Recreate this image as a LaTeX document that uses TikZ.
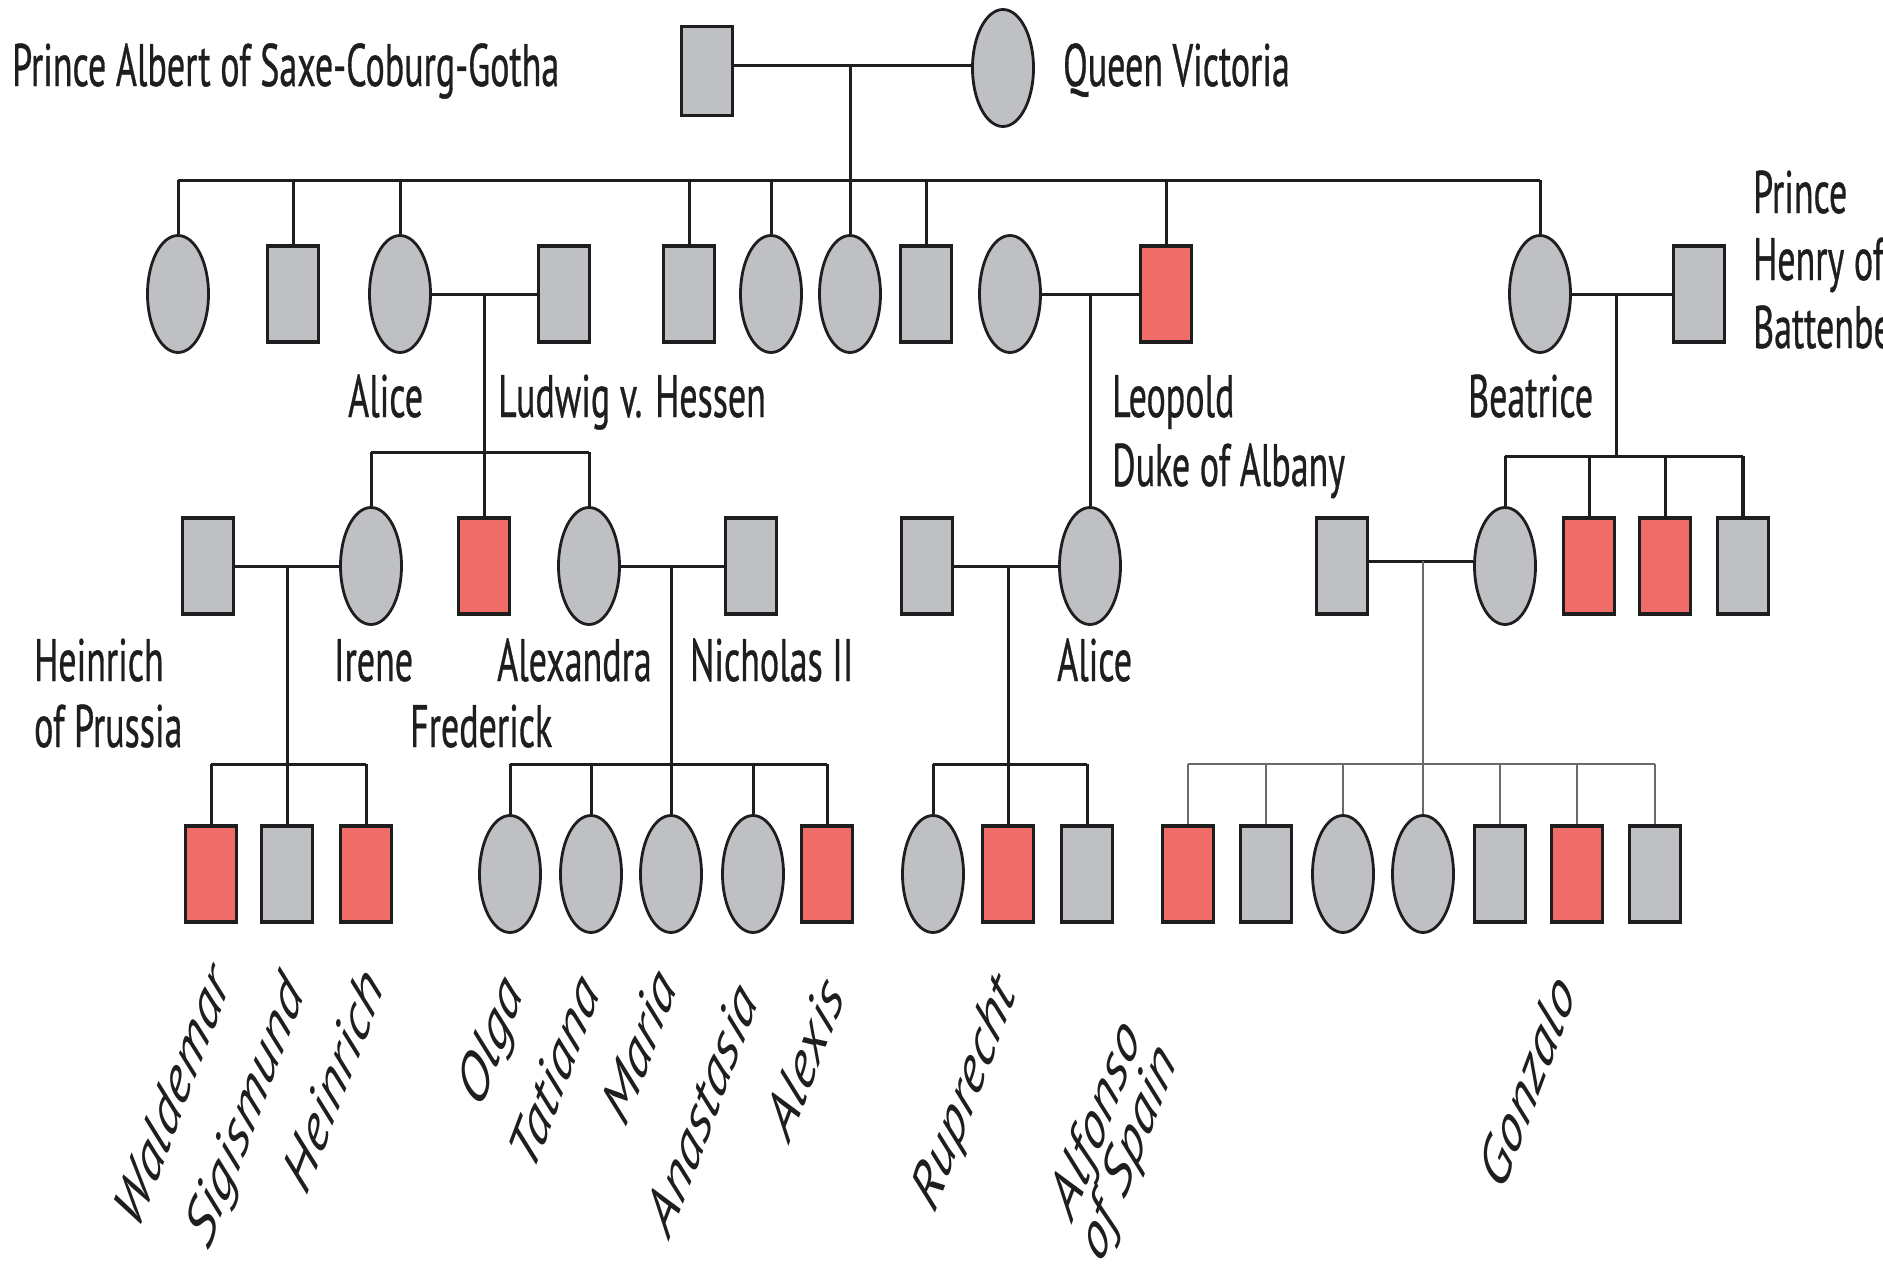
\documentclass[tikz,border=0pt]{standalone}
\usepackage{fontspec}
\setmainfont{PT Sans}[FakeBold=0.8]
\newfontfamily\slantnames{PT Sans Italic}
\usetikzlibrary{shapes.geometric}
\definecolor{persongrey}{HTML}{BFC0C4}
\definecolor{bleeder}{HTML}{F06C69}
\definecolor{inkgrey}{HTML}{1E1E1E}
\definecolor{softline}{HTML}{6A6A6A}
\tikzset{
  male/.style={rectangle, draw=inkgrey, line width=3.2pt, fill=persongrey,
    minimum width=51pt, minimum height=96pt, inner sep=0pt},
  female/.style={ellipse, draw=inkgrey, line width=2.8pt, fill=persongrey,
    minimum width=61pt, minimum height=117pt, inner sep=0pt},
  affected/.style={fill=bleeder},
  link/.style={line width=3pt, draw=inkgrey},
  glink/.style={line width=2.8pt, draw=softline},
  lab/.style={font=\fontsize{60}{66}\selectfont, text=inkgrey, inner sep=0pt,
    xscale=0.6, anchor=base west},
  rlab/.style={font=\fontsize{72}{78}\selectfont\slantnames, text=inkgrey, inner sep=0pt,
    xscale=0.6, rotate=58, anchor=north east},
}
\begin{document}
\begin{tikzpicture}[x=1pt, y=-1pt]
\useasboundingbox (0,0) rectangle (1883,1269);

% ---------- generation I ----------
\node[male, minimum height=89pt] (albert) at (707,71) {};
\node[female] (victoria) at (1003,68) {};

% ---------- generation II ----------
\def\gtwo{294}
\node[female] (vicky)    at (178,\gtwo) {};
\node[male]   (edward)   at (293,\gtwo) {};
\node[female] (alice)    at (400,\gtwo) {};
\node[male]   (ludwig)   at (564,\gtwo) {};
\node[male]   (alfred)   at (689,\gtwo) {};
\node[female] (helena)   at (771,\gtwo) {};
\node[female] (louise)   at (850,\gtwo) {};
\node[male]   (arthur)   at (926,\gtwo) {};
\node[female] (waldeck)  at (1010,\gtwo) {};
\node[male, affected] (leopold) at (1166,\gtwo) {};
\node[female] (beatrice) at (1540,\gtwo) {};
\node[male]   (henry)    at (1699,\gtwo) {};

% ---------- generation III ----------
\def\gthree{566}
\node[male]   (heinrichP) at (208,\gthree) {};
\node[female] (irene)     at (371,\gthree) {};
\node[male, affected] (frederick) at (484,\gthree) {};
\node[female] (alexandra) at (589,\gthree) {};
\node[male]   (nicholas)  at (751,\gthree) {};
\node[male]   (teck)      at (927,\gthree) {};
\node[female] (aliceA)    at (1090,\gthree) {};
\node[male]   (alfonso)   at (1342,\gthree) {};
\node[female] (ena)       at (1505,\gthree) {};
\node[male, affected] (bat1) at (1589,\gthree) {};
\node[male, affected] (bat2) at (1665,\gthree) {};
\node[male]   (bat3)      at (1743,\gthree) {};

% ---------- generation IV ----------
\def\gfour{874}
\node[male, affected] (waldemar)  at (211,\gfour) {};
\node[male]           (sigismund) at (287,\gfour) {};
\node[male, affected] (heinrichB) at (366,\gfour) {};
\node[female] (olga)      at (510,\gfour) {};
\node[female] (tatiana)   at (591,\gfour) {};
\node[female] (maria)     at (671,\gfour) {};
\node[female] (anastasia) at (753,\gfour) {};
\node[male, affected] (alexis) at (827,\gfour) {};
\node[female] (may)       at (933,\gfour) {};
\node[male, affected] (ruprecht) at (1008,\gfour) {};
\node[male]   (maurice)   at (1087,\gfour) {};
\node[male, affected] (sp1) at (1188,\gfour) {};
\node[male]   (sp2)       at (1266,\gfour) {};
\node[female] (sp3)       at (1343,\gfour) {};
\node[female] (sp4)       at (1423,\gfour) {};
\node[male]   (sp5)       at (1500,\gfour) {};
\node[male, affected] (gonzaloS) at (1577,\gfour) {};
\node[male]   (sp7)       at (1655,\gfour) {};

% ---------- junctions ----------
\coordinate (m1) at (850,65);
\coordinate (sib1) at (850,180);
\coordinate (m2) at (484,\gtwo);
\coordinate (sib2) at (484,452);
\coordinate (m3) at (1090,\gtwo);
\coordinate (m4) at (1616,\gtwo);
\coordinate (sib3) at (1616,456);
\coordinate (m5) at (287,\gthree);
\coordinate (m6) at (671,\gthree);
\coordinate (m7) at (1008,\gthree);
\coordinate (m8) at (1423,561);
\coordinate (sib4) at (287,764);

% ---------- connectors ----------
\draw[link] (albert.east |- m1) -- (victoria.west |- m1);
\draw[link] (m1) -- (louise);
\draw[link] (vicky |- sib1) -- (beatrice |- sib1);
\foreach \c in {vicky,edward,alice,alfred,helena,arthur,leopold,beatrice}
  \draw[link] (\c |- sib1) -- (\c);

\draw[link] (alice) -- (ludwig);
\draw[link] (m2) -- (frederick);
\draw[link] (irene |- sib2) -- (alexandra |- sib2);
\draw[link] (irene |- sib2) -- (irene);
\draw[link] (alexandra |- sib2) -- (alexandra);

\draw[link] (waldeck) -- (leopold);
\draw[link] (m3) -- (aliceA);

\draw[link] (beatrice) -- (henry);
\draw[link] (m4) -- (sib3);
\draw[link] (ena |- sib3) -- (bat3 |- sib3);
\foreach \c in {ena,bat1,bat2}
  \draw[link] (\c |- sib3) -- (\c);
\draw[link, line width=4.2pt] (bat3 |- sib3) -- (bat3);

\draw[link] (heinrichP) -- (irene);
\draw[link] (m5) -- (sigismund);
\draw[link] (waldemar |- sib4) -- (heinrichB |- sib4);
\foreach \c in {waldemar,heinrichB}
  \draw[link] (\c |- sib4) -- (\c);

\draw[link] (alexandra) -- (nicholas);
\draw[link] (m6) -- (maria);
\draw[link] (olga |- sib4) -- (alexis |- sib4);
\foreach \c in {olga,tatiana,anastasia,alexis}
  \draw[link] (\c |- sib4) -- (\c);

\draw[link] (teck) -- (aliceA);
\draw[link] (m7) -- (ruprecht);
\draw[link] (may |- sib4) -- (maurice |- sib4);
\foreach \c in {may,maurice}
  \draw[link] (\c |- sib4) -- (\c);

\draw[link] (alfonso.east |- m8) -- (ena.west |- m8);
\draw[glink] (m8) -- (sp4);
\draw[glink] (sp1 |- sib4) -- (sp7 |- sib4);
\foreach \c in {sp1,sp2,sp3,sp5,gonzaloS,sp7}
  \draw[glink] (\c |- sib4) -- (\c);

% ---------- names ----------
\node[lab] (tAlbert)   at (12,86)    {Prince Albert of Saxe-Coburg-Gotha};
\node[lab] (tVictoria) at (1063,86)  {Queen Victoria};
\node[lab] (tAlice)    at (348,417)  {Alice};
\node[lab] (tLudwig)   at (498,417)  {Ludwig v. Hessen};
\node[lab] (tLeopold)  at (1112,417) {Leopold};
\node[lab] (tDuke)     at (1112,486) {Duke of Albany};
\node[lab] (tBeatrice) at (1468,417) {Beatrice};
\node[lab] (tPrince)   at (1753,213) {Prince};
\node[lab] (tHenry)    at (1753,280) {Henry of};
\node[lab] (tBatt)     at (1753,348) {Battenberg};
\node[lab] (tHeinrich) at (34,681)   {Heinrich};
\node[lab] (tPrussia)  at (34,747)   {of Prussia};
\node[lab] (tIrene)    at (334,681)  {Irene};
\node[lab] (tAlexandra) at (497,681) {Alexandra};
\node[lab] (tNicholas) at (690,681)  {Nicholas II};
\node[lab] (tFrederick) at (410,747) {Frederick};
\node[lab] (tAliceA)   at (1057,681) {Alice};

\node[rlab] (rWaldemar)  at (205,958)  {Waldemar};
\node[rlab] (rSigismund) at (279,967)  {Sigismund};
\node[rlab] (rHeinrich)  at (359,961)  {Heinrich};
\node[rlab] (rOlga)      at (498,967)  {Olga};
\node[rlab] (rTatiana)   at (575,967)  {Tatiana};
\node[rlab] (rMaria)     at (652,961)  {Maria};
\node[rlab] (rAnastasia) at (733,975)  {Anastasia};
\node[rlab] (rAlexis)    at (819,970)  {Alexis};
\node[rlab] (rRuprecht)  at (991,967)  {Ruprecht};
\node[rlab] (rAlfonso)   at (1116,1011) {Alfonso};
\node[rlab] (rSpain)     at (1151,1035) {of Spain};
\node[rlab] (rGonzalo)   at (1551,967) {Gonzalo};
\end{tikzpicture}
\end{document}
